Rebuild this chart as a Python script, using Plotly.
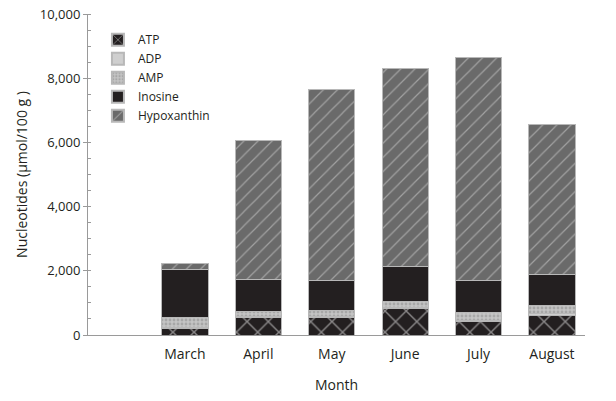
import plotly.graph_objects as go

months = ["March", "April", "May", "June", "July", "August"]
atp = [200, 550, 560, 820, 420, 620]
adp = [40, 40, 30, 40, 40, 40]
amp = [310, 150, 160, 190, 240, 250]
inosine = [1480, 1000, 950, 1090, 1000, 980]
hypoxanthin = [210, 4330, 5950, 6160, 6950, 4660]
y_ticks = [0, 2000, 4000, 6000, 8000, 10000]

outline = dict(color="#b8b8b8", width=1)
series = [
    ("ATP", atp, dict(fillmode="overlay", bgcolor="#231f20", fgcolor="#f0f0f0", shape="x", size=15, solidity=0.18)),
    ("ADP", adp, None),
    ("AMP", amp, dict(fillmode="overlay", bgcolor="#c4c4c4", fgcolor="#8a8a8a", shape=".", size=4, solidity=0.4)),
    ("Inosine", inosine, None),
    ("Hypoxanthin", hypoxanthin, dict(fillmode="overlay", bgcolor="#6a6a6a", fgcolor="#d8d8d8", shape="/", size=10, solidity=0.12)),
]
colors = {"ATP": "#231f20", "ADP": "#cfcfcf", "AMP": "#c4c4c4", "Inosine": "#231f20", "Hypoxanthin": "#6a6a6a"}

fig = go.Figure()
for name, vals, pat in series:
    marker = dict(color=colors[name], line=outline)
    if pat:
        marker["pattern"] = pat
    fig.add_trace(go.Bar(x=months, y=vals, name=name, marker=marker, width=0.63))

fig.update_layout(
    barmode="stack",
    width=616, height=401,
    margin=dict(l=88, r=31, t=14, b=66),
    paper_bgcolor="white", plot_bgcolor="white",
    font=dict(family="Open Sans, DejaVu Sans, sans-serif", size=13, color="#231f20"),
    legend=dict(x=0.02, y=0.965, xanchor="left", yanchor="top", traceorder="normal",
                font=dict(size=12), itemsizing="constant", tracegroupgap=0,
                bgcolor="rgba(0,0,0,0)"),
    xaxis=dict(range=[-1.32, 5.45], showline=True, linecolor="#9a9a9a", linewidth=1,
               ticks="", showgrid=False, tickfont=dict(size=14), ticklabelstandoff=6,
               automargin=False,
               title=dict(text="Month", font=dict(size=14), standoff=18)),
    yaxis=dict(range=[0, 10000], tickvals=y_ticks, tickformat=",", showline=True,
               linecolor="#9a9a9a", linewidth=1, ticks="outside", ticklen=4, tickcolor="#9a9a9a",
               showgrid=False, zeroline=False, tickfont=dict(size=13), automargin=False,
               minor=dict(dtick=500, ticks="inside", ticklen=3, tickcolor="#9a9a9a"),
               title=dict(text="Nucleotides (μmol/100 g )", font=dict(size=14), standoff=8)),
)
fig.write_html("out.html")
